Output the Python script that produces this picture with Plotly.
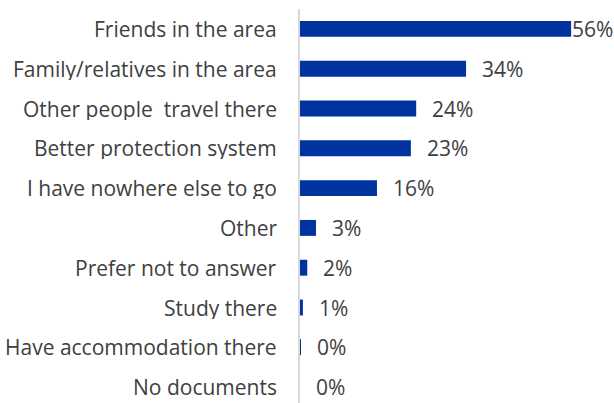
import plotly.graph_objects as go

categories = [
    "Friends in the area",
    "Family/relatives in the area",
    "Other people  travel there",
    "Better protection system",
    "I have nowhere else to go",
    "Other",
    "Prefer not to answer",
    "Study there",
    "Have accommodation there",
    "No documents",
]
shares = [56.0, 34.3, 24.0, 22.9, 15.9, 3.3, 1.5, 0.6, 0.2, 0.0]

BAR_COLOR = "#0033a0"
TEXT_COLOR = "#404040"
FONT = "Open Sans"
FONT_SIZE = 21
LABEL_BOX_H = 22

rows = list(range(len(categories)))

fig = go.Figure(
    go.Bar(
        x=shares,
        y=rows,
        orientation="h",
        marker=dict(color=BAR_COLOR, line=dict(width=0)),
        width=0.4,
        hoverinfo="skip",
    )
)

# category names, right-aligned just left of the axis line
for i, name in zip(rows, categories):
    fig.add_annotation(
        x=0, y=i, xref="paper", yref="y",
        text=name,
        showarrow=False,
        xanchor="right", yanchor="middle",
        xshift=-22, height=LABEL_BOX_H, borderpad=0,
        font=dict(family=FONT, size=FONT_SIZE, color=TEXT_COLOR),
    )

# value labels sit a fixed gap after each bar end; the longest one hugs its bar
top = max(shares)
for i, v in zip(rows, shares):
    fig.add_annotation(
        x=v, y=i, xref="x", yref="y",
        text=f"{v:.0f}%",
        showarrow=False,
        xanchor="left", yanchor="middle",
        xshift=0 if v == top else 15,
        height=LABEL_BOX_H, borderpad=0,
        font=dict(family=FONT, size=FONT_SIZE, color=TEXT_COLOR),
    )

fig.update_layout(
    width=614, height=403,
    margin=dict(l=300, r=24, t=9, b=0),
    paper_bgcolor="white", plot_bgcolor="white",
    showlegend=False,
    font=dict(family=FONT, size=FONT_SIZE, color=TEXT_COLOR),
)
fig.update_xaxes(range=[0, 59.9], visible=False, fixedrange=True)
fig.update_yaxes(
    range=[9.399, -0.5],
    showticklabels=False, ticks="",
    showgrid=False, zeroline=False,
    showline=True, linecolor="#d9d9d9", linewidth=2,
    fixedrange=True,
)

fig.write_html("out.html")
